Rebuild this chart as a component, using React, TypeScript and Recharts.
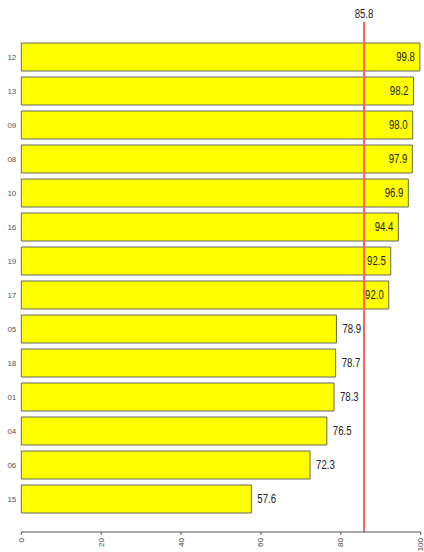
import React from 'react';
import { BarChart, Bar, XAxis, YAxis, ReferenceLine, LabelList } from 'recharts';

const categories = ['12', '13', '09', '08', '10', '16', '19', '17', '05', '18', '01', '04', '06', '15'];
const values = [99.8, 98.2, 98.0, 97.9, 96.9, 94.4, 92.5, 92.0, 78.9, 78.7, 78.3, 76.5, 72.3, 57.6];
const xTicks = [0, 20, 40, 60, 80, 100];
const threshold = 85.8;

const data = categories.map((name, i) => ({ name, value: values[i] }));

const labelFont = '"Liberation Sans", Arial, sans-serif';
const tickFont = '"Liberation Sans", Arial, sans-serif';

// squeeze Arial-like digits to look like the narrow font of the original
const narrowLength = (s: string, size: number) => {
  let w = 0;
  for (const ch of s) w += ch === '.' ? 0.278 : 0.556;
  return w * size * 0.8;
};

// rotated x tick labels, reading bottom to top
const XTick = (props: any) => {
  const { x, y, payload } = props;
  return (
    <text
      x={x}
      y={y}
      transform={`rotate(-90 ${x} ${y})`}
      textAnchor="end"
      dominantBaseline="central"
      fontSize={8}
      fontFamily={tickFont}
      fill="#444"
    >
      {payload.value}
    </text>
  );
};

// value labels: inside the bar end when past the reference line, outside otherwise
const ValueLabel = (props: any) => {
  const { x, y, width, height, value } = props;
  const inside = value > threshold;
  const txt = value.toFixed(1);
  return (
    <text
      x={inside ? x + width - 5 : x + width + 6}
      y={y + height / 2}
      textAnchor={inside ? 'end' : 'start'}
      dominantBaseline="central"
      fontSize={12}
      fontFamily={labelFont}
      textLength={narrowLength(txt, 12)}
      lengthAdjust="spacingAndGlyphs"
      fill="#222"
    >
      {txt}
    </text>
  );
};

const RefLabel = (props: any) => {
  const { viewBox } = props;
  const txt = '85.8';
  return (
    <text
      x={viewBox.x}
      y={viewBox.y - 8}
      textAnchor="middle"
      dominantBaseline="central"
      fontSize={12}
      fontFamily={labelFont}
      textLength={narrowLength(txt, 12)}
      lengthAdjust="spacingAndGlyphs"
      fill="#222"
    >
      {txt}
    </text>
  );
};

export default function App() {
  return (
    <div style={{ position: 'absolute', left: 0, top: 0, background: '#fff' }}>
      <BarChart
        width={424}
        height={552}
        data={data}
        layout="vertical"
        margin={{ top: 22, right: 3.3, bottom: 0, left: 0 }}
        barCategoryGap={3}
      >
        <XAxis
          type="number"
          domain={[0, 100]}
          ticks={xTicks}
          height={20}
          tickSize={3}
          tickMargin={3}
          axisLine={{ stroke: '#555' }}
          tickLine={{ stroke: '#555' }}
          tick={<XTick />}
          interval={0}
        />
        <YAxis
          type="category"
          dataKey="name"
          width={21.3}
          axisLine={false}
          tickLine={false}
          tickSize={5}
          tickMargin={0}
          padding={{ top: 18, bottom: 16 }}
          interval={0}
          tick={{ fontSize: 8, fill: '#555', fontFamily: tickFont }}
        />
        <Bar dataKey="value" fill="#FFFF00" stroke="#666" strokeWidth={1} isAnimationActive={false}>
          <LabelList dataKey="value" content={<ValueLabel />} />
        </Bar>
        <ReferenceLine x={threshold} stroke="#ff6060" strokeWidth={2} label={<RefLabel />} />
      </BarChart>
    </div>
  );
}
